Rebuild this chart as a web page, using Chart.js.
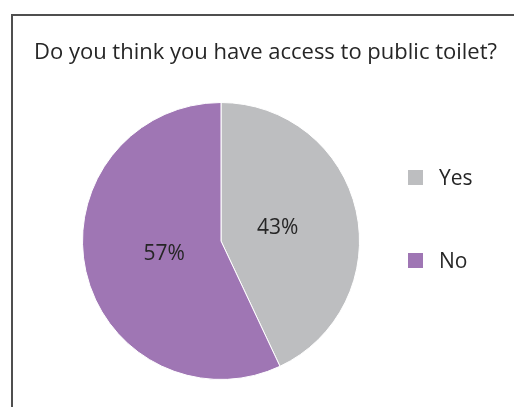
<!DOCTYPE html>
<html>
<head>
<meta charset="utf-8">
<script src="https://cdn.jsdelivr.net/npm/chart.js@4"></script>
<style>
    html, body { margin: 0; padding: 0; background: #fff; overflow: hidden; }
    body { width: 514px; height: 407px; position: relative; font-family: "Open Sans", "Noto Sans", sans-serif; color: #262626; }
    #title { position: absolute; left: 16px; width: 499px; top: 35px; text-align: center; font-size: 22px; white-space: nowrap; }
    #chart-wrap { position: absolute; left: 0; top: 0; width: 514px; height: 407px; }
    #legend { position: absolute; left: 408px; top: 166px; font-size: 21px; }
    .legend-item { display: flex; align-items: center; height: 22px; margin-bottom: 61px; }
    .legend-box { display: inline-block; width: 15px; height: 15px; margin-right: 16px; }
</style>
</head>
<body>
<div id="chart-wrap"><canvas id="accessPieChart" width="514" height="407"></canvas></div>
<div id="title">Do you think you have access to public toilet?</div>
<div id="legend"></div>
<script>
const categories = ["Yes", "No"];
const shares = [43, 57];
const sliceColors = ["#bdbec0", "#9f76b4"];

// outer frame: only top and left edges are visible in the cropped picture
const frameLines = {
    id: "frameLines",
    beforeDraw(chart) {
        const ctx = chart.ctx;
        ctx.save();
        ctx.strokeStyle = "#4f4f4f";
        ctx.lineWidth = 2;
        ctx.beginPath();
        ctx.moveTo(12, chart.height);
        ctx.lineTo(12, 15);
        ctx.lineTo(chart.width, 15);
        ctx.stroke();
        ctx.restore();
    }
};

// percent text inside each slice
const sliceLabels = {
    id: "sliceLabels",
    afterDatasetsDraw(chart) {
        const ctx = chart.ctx;
        const meta = chart.getDatasetMeta(0);
        const total = shares.reduce((a, b) => a + b, 0);
        ctx.save();
        ctx.font = "21px 'Open Sans', 'Noto Sans', sans-serif";
        ctx.fillStyle = "#262626";
        ctx.textAlign = "center";
        ctx.textBaseline = "middle";
        meta.data.forEach((arc, i) => {
            const p = arc.getProps(["x", "y", "startAngle", "endAngle", "outerRadius"], true);
            const mid = (p.startAngle + p.endAngle) / 2;
            const r = p.outerRadius * 0.42;
            ctx.fillText(Math.round(shares[i] / total * 100) + "%", p.x + Math.cos(mid) * r, p.y + Math.sin(mid) * r);
        });
        ctx.restore();
    }
};

const pieChart = new Chart(document.getElementById("accessPieChart"), {
    type: "pie",
    data: {
        labels: categories,
        datasets: [{
            data: shares,
            backgroundColor: sliceColors,
            borderColor: "#ffffff",
            borderWidth: 1
        }]
    },
    options: {
        responsive: false,
        animation: false,
        layout: {
            padding: { left: 82, right: 154, top: 102, bottom: 27 }
        },
        plugins: {
            legend: { display: false },
            tooltip: { enabled: false }
        }
    },
    plugins: [frameLines, sliceLabels]
});

const legend = document.getElementById("legend");
categories.forEach((name, i) => {
    const item = document.createElement("div");
    item.className = "legend-item";
    item.innerHTML = `<span class="legend-box" style="background:${sliceColors[i]}"></span>${name}`;
    legend.appendChild(item);
});
</script>
</body>
</html>
